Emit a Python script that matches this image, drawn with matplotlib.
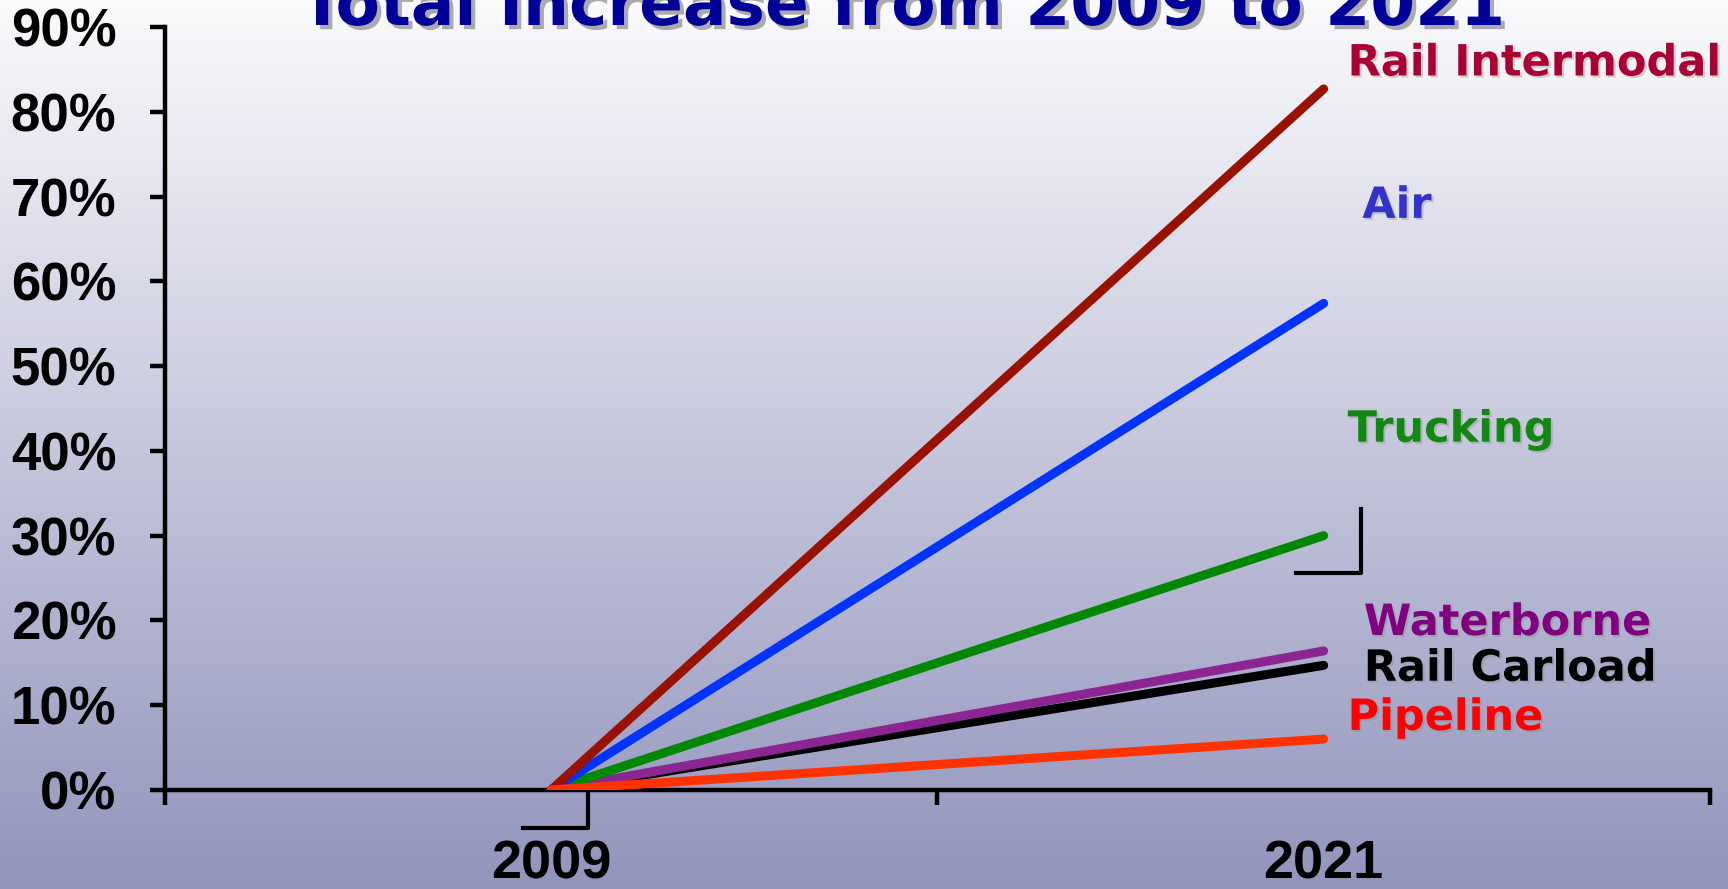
import numpy as np
import matplotlib.pyplot as plt
import matplotlib.patheffects as pe

# Data
years = ['2009', '2021']
modes = ['Rail Intermodal', 'Air', 'Trucking', 'Waterborne', 'Rail Carload', 'Pipeline']
increase_2009 = [0, 0, 0, 0, 0, 0]
increase_2021 = [82.7, 57.4, 30.0, 16.4, 14.7, 6.0]
line_colors = ['#991100', '#0033FF', '#008800', '#8B2590', '#000000', '#FF3300']
label_colors = ['#AA0033', '#3333CC', '#118811', '#800080', '#000000', '#FF0000']
# label placement (x in category units, y in %)
label_x = [1.031, 1.05, 1.031, 1.052, 1.052, 1.031]
label_y = [85.7, 68.9, 42.5, 19.7, 14.3, 8.5]
yticks = np.arange(0, 100, 10)

fig = plt.figure(figsize=(17.28, 8.89), dpi=100)

# gradient background
bg = fig.add_axes([0, 0, 1, 1], zorder=-1)
grad = np.linspace(0, 1, 256).reshape(-1, 1)
top = np.array([250, 250, 252]) / 255
bot = np.array([146, 148, 188]) / 255
img = top + (bot - top) * grad[:, :, None]
bg.imshow(img, aspect='auto', extent=[0, 1, 0, 1])
bg.axis('off')

ax = fig.add_axes([0.0955, 0.1114, 0.894, 0.8582])
ax.set_facecolor('none')

for i, m in enumerate(modes):
    z = 4 if m == 'Pipeline' else 3 + (5 - i) * 0.01
    ax.plot([0, 1], [increase_2009[i], increase_2021[i]], color=line_colors[i],
            lw=6.5, solid_capstyle='round', zorder=z)
    ax.text(label_x[i], label_y[i], m, color=label_colors[i], fontsize=31,
            fontweight='bold', family='DejaVu Sans', va='center', ha='left',
            path_effects=[pe.withSimplePatchShadow(offset=(1.5, -1.5), shadow_rgbFace='#888888', alpha=0.35)])

ax.set_xlim(-0.5, 1.5)
ax.set_ylim(0, 90)
ax.set_xticks([-0.5, 0.5, 1.5])
ax.set_xticklabels([])
ax.set_xticks([0, 1], minor=True)
ax.set_xticklabels(years, minor=True, fontsize=39, fontweight='bold', family='Liberation Sans')
ax.tick_params(axis='x', which='major', length=11, width=3.2, direction='out')
ax.tick_params(axis='x', which='minor', length=0, pad=36)
ax.set_yticks(yticks)
ax.set_yticklabels([f'{v}%' for v in yticks], fontsize=38, fontweight='bold', family='Liberation Sans')
ax.tick_params(axis='y', length=11, width=3.2, direction='out', pad=24)

for s in ['top', 'right']:
    ax.spines[s].set_visible(False)
for s in ['left', 'bottom']:
    ax.spines[s].set_linewidth(3.2)

# stray leader marks
ax.plot([-0.036, 0.048, 0.048], [-4.5, -4.5, 0], color='black', lw=3, clip_on=False, zorder=2)
ax.plot([0.964, 1.048, 1.048], [25.6, 25.6, 33.1], color='black', lw=3, clip_on=False, zorder=2)

fig.text(0.5225, 1 - 25 / 889, 'Total Increase from 2009 to 2021', ha='center', va='baseline',
         fontsize=46.5, fontweight='bold', family='DejaVu Sans', color='#000099',
         path_effects=[pe.withSimplePatchShadow(offset=(3, -3), shadow_rgbFace='#777777', alpha=0.6)])

fig.savefig('out.png', dpi=100)
